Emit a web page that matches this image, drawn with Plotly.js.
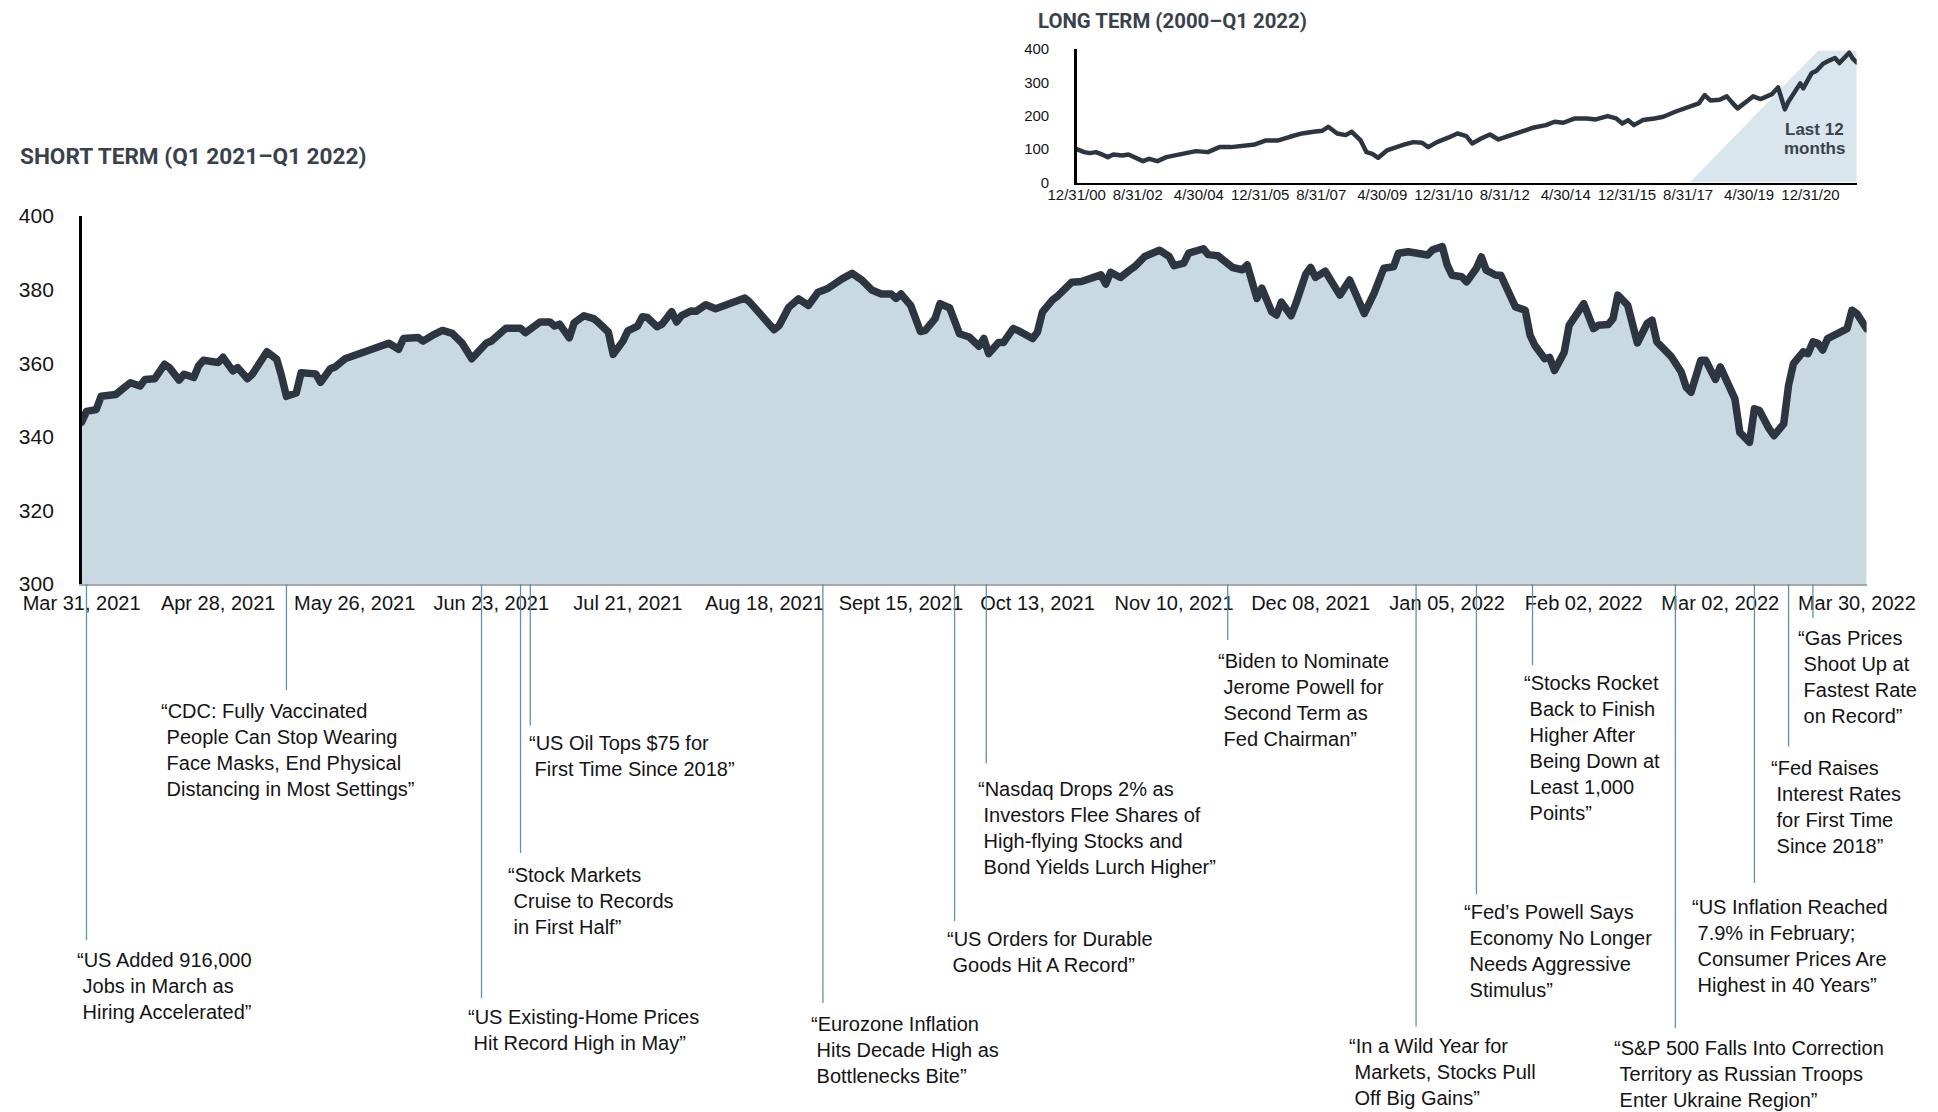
<!DOCTYPE html>
<html>
<head>
<meta charset="utf-8">
<script src="https://cdn.plot.ly/plotly-3.0.1.min.js"></script>
<style>
  html, body { margin: 0; padding: 0; background: #ffffff; }
  #chart { width: 1938px; height: 1112px; }
  .scatterlayer .js-line { stroke-linejoin: round; stroke-linecap: round; }
</style>
</head>
<body>
<div id="chart"></div>
<script>
// ---------------- DATA ----------------
const shortTermDates = [
'2021-03-31','2021-04-01','2021-04-03','2021-04-04','2021-04-07','2021-04-10','2021-04-12','2021-04-13','2021-04-15','2021-04-17',
'2021-04-18','2021-04-20','2021-04-21','2021-04-23','2021-04-24','2021-04-25','2021-04-28','2021-04-29','2021-05-01','2021-05-02',
'2021-05-04','2021-05-05','2021-05-08','2021-05-10','2021-05-11','2021-05-12','2021-05-14','2021-05-15','2021-05-18','2021-05-19',
'2021-05-21','2021-05-22','2021-05-24','2021-05-26','2021-05-28','2021-05-30','2021-05-31','2021-06-02','2021-06-04','2021-06-05',
'2021-06-08','2021-06-09','2021-06-11','2021-06-13','2021-06-15','2021-06-17','2021-06-19','2021-06-21','2021-06-22','2021-06-23',
'2021-06-26','2021-06-29','2021-06-30','2021-07-03','2021-07-05','2021-07-06','2021-07-07','2021-07-09','2021-07-10','2021-07-12',
'2021-07-14','2021-07-15','2021-07-17','2021-07-18','2021-07-20','2021-07-21','2021-07-23','2021-07-24','2021-07-25','2021-07-27',
'2021-07-28','2021-07-30','2021-07-31','2021-08-01','2021-08-03','2021-08-04','2021-08-06','2021-08-08','2021-08-11','2021-08-14',
'2021-08-15','2021-08-17','2021-08-20','2021-08-21','2021-08-23','2021-08-25','2021-08-27','2021-08-29','2021-08-31','2021-09-03',
'2021-09-05','2021-09-07','2021-09-09','2021-09-11','2021-09-13','2021-09-14','2021-09-15','2021-09-17','2021-09-19','2021-09-20',
'2021-09-22','2021-09-23','2021-09-25','2021-09-27','2021-09-29','2021-10-01','2021-10-02','2021-10-03','2021-10-05','2021-10-06',
'2021-10-08','2021-10-09','2021-10-12','2021-10-13','2021-10-14','2021-10-16','2021-10-17','2021-10-20','2021-10-22','2021-10-26',
'2021-10-27','2021-10-28','2021-10-30','2021-11-01','2021-11-02','2021-11-04','2021-11-07','2021-11-09','2021-11-10','2021-11-12',
'2021-11-13','2021-11-16','2021-11-17','2021-11-19','2021-11-20','2021-11-22','2021-11-24','2021-11-25','2021-11-27','2021-11-28',
'2021-11-30','2021-12-01','2021-12-02','2021-12-04','2021-12-05','2021-12-07','2021-12-08','2021-12-09','2021-12-11','2021-12-14',
'2021-12-16','2021-12-17','2021-12-19','2021-12-21','2021-12-23','2021-12-25','2021-12-26','2021-12-28','2021-12-30','2022-01-01',
'2022-01-02','2022-01-04','2022-01-05','2022-01-06','2022-01-08','2022-01-09','2022-01-11','2022-01-12','2022-01-13','2022-01-15',
'2022-01-16','2022-01-18','2022-01-19','2022-01-21','2022-01-22','2022-01-23','2022-01-25','2022-01-26','2022-01-27','2022-01-29',
'2022-01-30','2022-02-02','2022-02-04','2022-02-05','2022-02-07','2022-02-08','2022-02-09','2022-02-11','2022-02-12','2022-02-13',
'2022-02-15','2022-02-16','2022-02-17','2022-02-19','2022-02-20','2022-02-22','2022-02-23','2022-02-24','2022-02-26','2022-02-27',
'2022-03-01','2022-03-02','2022-03-03','2022-03-05','2022-03-06','2022-03-08','2022-03-09','2022-03-10','2022-03-12','2022-03-13',
'2022-03-15','2022-03-16','2022-03-17','2022-03-19','2022-03-20','2022-03-21','2022-03-22','2022-03-23','2022-03-24','2022-03-26',
'2022-03-28','2022-03-29','2022-03-30','2022-04-01'
];
const shortTermValues = [
344.0,346.9,347.4,351.0,351.5,354.7,353.8,355.6,355.8,359.7,
358.8,355.4,357.0,356.1,359.3,360.8,360.2,361.6,357.9,358.8,
355.8,357.0,363.1,361.1,356.5,351.0,351.9,357.4,357.1,354.8,
358.5,359.0,361.2,362.1,362.9,363.8,364.2,365.4,363.8,366.7,
367.0,366.0,367.6,368.9,368.1,365.5,361.2,363.8,365.5,366.0,
369.5,369.5,368.3,371.2,371.2,370.1,370.6,366.9,371.0,372.9,
372.1,371.0,368.5,362.4,366.0,368.8,370.1,372.6,372.4,369.9,
370.6,374.0,371.2,372.9,374.2,374.1,375.9,374.8,376.2,377.7,
376.6,373.4,369.1,370.2,375.2,377.5,375.7,379.3,380.3,383.0,
384.4,382.6,379.9,378.8,378.8,377.6,378.8,375.7,368.6,368.9,
372.1,376.2,375.0,368.0,367.1,364.6,366.7,362.6,365.6,365.6,
369.4,368.9,366.7,368.5,373.9,377.1,378.1,382.0,382.2,384.0,
381.5,384.7,383.3,385.4,386.3,389.0,390.7,389.0,386.5,387.2,
389.9,391.1,389.5,389.2,388.3,386.0,385.4,386.7,377.6,380.4,
374.0,373.1,376.6,372.9,376.3,384.2,386.0,383.3,385.0,378.5,
382.6,379.8,373.5,379.0,385.8,386.2,389.9,390.3,389.9,389.4,
390.8,391.7,386.7,383.9,383.5,382.1,385.8,388.9,385.3,383.9,
383.9,377.6,375.3,374.4,367.6,364.8,361.2,361.6,358.0,363.0,
370.3,376.2,369.4,370.3,370.5,372.1,378.5,375.8,370.3,365.5,
370.8,371.7,365.8,363.1,361.7,357.6,353.5,352.1,360.8,360.8,
355.6,359.0,356.3,350.3,341.2,338.5,347.6,347.2,342.2,340.3,
343.5,354.0,359.9,363.1,362.6,365.8,365.4,363.6,366.7,367.9,
369.4,374.4,373.5,369.4
];

const shortTickDates = ['2021-03-31','2021-04-28','2021-05-26','2021-06-23','2021-07-21','2021-08-18','2021-09-15',
  '2021-10-13','2021-11-10','2021-12-08','2022-01-05','2022-02-02','2022-03-02','2022-03-30'];
const shortTickLabels = ['Mar 31, 2021','Apr 28, 2021','May 26, 2021','Jun 23, 2021','Jul 21, 2021','Aug 18, 2021',
  'Sept 15, 2021','Oct 13, 2021','Nov 10, 2021','Dec 08, 2021','Jan 05, 2022','Feb 02, 2022','Mar 02, 2022','Mar 30, 2022'];
const shortYTicks = [300, 320, 340, 360, 380, 400];

const longTermDates = [
'2000-12-31','2001-03-15','2001-05-12','2001-07-09','2001-09-09','2001-11-06','2001-12-31','2002-03-31','2002-05-31','2002-07-24',
'2002-10-21','2002-12-21','2003-03-15','2003-06-12','2003-09-09','2004-01-06','2004-03-31','2004-07-28','2004-11-21','2005-03-18',
'2005-07-12','2005-11-09','2006-02-28','2006-06-30','2006-10-24','2007-02-21','2007-06-15','2007-09-12','2007-11-09','2008-02-06',
'2008-04-30','2008-06-30','2008-09-27','2008-11-24','2009-01-21','2009-03-21','2009-06-15','2009-09-12','2009-12-09','2010-03-06',
'2010-05-31','2010-07-31','2010-10-27','2011-02-21','2011-05-18','2011-08-15','2011-10-12','2012-01-09','2012-04-06','2012-06-30',
'2012-10-27','2013-02-24','2013-06-18','2013-10-15','2014-01-09','2014-04-06','2014-07-31','2014-11-27','2015-02-24','2015-06-21',
'2015-09-15','2015-11-15','2016-01-12','2016-03-09','2016-06-06','2016-09-30','2016-12-27','2017-04-24','2017-08-18','2017-12-15',
'2018-02-12','2018-04-09','2018-07-10','2018-09-20','2018-11-10','2019-01-05','2019-04-24','2019-06-10','2019-08-21','2019-12-15',
'2020-02-12','2020-04-20','2020-05-25','2020-07-25','2020-09-20','2020-10-20','2021-01-10','2021-03-01','2021-05-05','2021-07-10',
'2021-09-01','2021-10-15','2021-12-10','2022-01-20','2022-02-25','2022-04-05'
];
const longTermValues = [
100,91,88,91,84,76,84,81,84,76,
64,71,64,76,81,91,94,91,106,106,
111,114,126,126,137,147,152,155,167,147,
142,152,126,91,86,74,96,106,114,121,
119,106,121,135,147,139,117,132,144,129,
142,152,165,172,182,179,192,192,189,199,
192,177,187,172,187,192,197,212,225,237,
262,246,248,258,240,222,247,258,250,265,
285,219,242,272,297,282,327,335,356,366,
373,358,376,389,371,360
];
const longTickDates = ['2000-12-31','2002-08-31','2004-04-30','2005-12-31','2007-08-31','2009-04-30','2010-12-31',
  '2012-08-31','2014-04-30','2015-12-31','2017-08-31','2019-04-30','2020-12-31'];
const longTickLabels = ['12/31/00','8/31/02','4/30/04','12/31/05','8/31/07','4/30/09','12/31/10',
  '8/31/12','4/30/14','12/31/15','8/31/17','4/30/19','12/31/20'];
const longYTicks = [0, 100, 200, 300, 400];

const eventDates = ['2021-04-01','2021-05-12','2021-07-01','2021-06-29','2021-06-21','2021-08-30','2021-09-26',
  '2021-10-02 12:00','2021-11-21','2021-12-29 15:00','2022-01-11','2022-01-22 12:00','2022-02-20 19:00',
  '2022-03-09','2022-03-16','2022-03-21'];
const eventHeadlines = [
  ['“US Added 916,000','Jobs in March as','Hiring Accelerated”'],
  ['“CDC: Fully Vaccinated','People Can Stop Wearing','Face Masks, End Physical','Distancing in Most Settings”'],
  ['“US Oil Tops $75 for','First Time Since 2018”'],
  ['“Stock Markets','Cruise to Records','in First Half”'],
  ['“US Existing-Home Prices','Hit Record High in May”'],
  ['“Eurozone Inflation','Hits Decade High as','Bottlenecks Bite”'],
  ['“US Orders for Durable','Goods Hit A Record”'],
  ['“Nasdaq Drops 2% as','Investors Flee Shares of','High-flying Stocks and','Bond Yields Lurch Higher”'],
  ['“Biden to Nominate','Jerome Powell for','Second Term as','Fed Chairman”'],
  ['“In a Wild Year for','Markets, Stocks Pull','Off Big Gains”'],
  ['“Fed’s Powell Says','Economy No Longer','Needs Aggressive','Stimulus”'],
  ['“Stocks Rocket','Back to Finish','Higher After','Being Down at','Least 1,000','Points”'],
  ['“S&P 500 Falls Into Correction','Territory as Russian Troops','Enter Ukraine Region”'],
  ['“US Inflation Reached','7.9% in February;','Consumer Prices Are','Highest in 40 Years”'],
  ['“Fed Raises','Interest Rates','for First Time','Since 2018”'],
  ['“Gas Prices','Shoot Up at','Fastest Rate','on Record”']
];

// ---------------- LAYOUT HELPERS ----------------
const W = 1938, H = 1112;
const px = v => v / W;
const py = v => 1 - v / H;

// [text left px, first-line centre px, connector bottom px]
const eventPlacement = [
  [75, 959.6, 940], [159, 710.7, 690], [527, 743, 725.5], [506, 875, 853],
  [465.6, 1017, 998], [809, 1024, 1003], [945, 938.5, 921], [975.6, 789, 763.5],
  [1215.8, 661.4, 640], [1346.8, 1046, 1026.5], [1462, 912, 894.5], [1521.5, 683, 665],
  [1612, 1047.7, 1028], [1690, 906.8, 883], [1769, 767.7, 746.6], [1796, 638, 618]
];

const REG = 'Liberation Sans, Arial, Helvetica, sans-serif';
const COND = 'Roboto, Liberation Sans, Arial, sans-serif';
const TITLE_COLOR = '#39424b';
const LINE_COLOR = '#2d3640';

const mainLeft = 81.6, mainRight = 1866.6, mainTop = 216, mainBottom = 584;
const insetLeft = 1076.7, insetRight = 1856.7, insetTop = 49, insetBottom = 182.5;

const shadeX = ['2017-09-15', '2021-03-15', '2022-04-05', '2022-04-05'];
const shadeY = [0, 395, 395, 0];

const traces = [
  {
    x: shortTermDates, y: shortTermValues, type: 'scatter', mode: 'lines',
    fill: 'tozeroy', fillcolor: '#c9d9e2',
    line: { color: LINE_COLOR, width: 7.5 },
    xaxis: 'x', yaxis: 'y', hoverinfo: 'skip'
  },
  {
    x: shadeX, y: shadeY, type: 'scatter', mode: 'none', fill: 'toself',
    fillcolor: '#d9e6ed', xaxis: 'x2', yaxis: 'y2', hoverinfo: 'skip'
  },
  {
    x: longTermDates, y: longTermValues, type: 'scatter', mode: 'lines',
    line: { color: LINE_COLOR, width: 4.5 },
    xaxis: 'x2', yaxis: 'y2', hoverinfo: 'skip'
  }
];

const shapes = eventDates.map((d, i) => ({
  type: 'line', xref: 'x', yref: 'paper',
  x0: d, x1: d, y0: py(mainBottom), y1: py(eventPlacement[i][2]),
  line: { color: '#5f93ad', width: 1.3 }, layer: 'above'
}));

const annotations = eventHeadlines.map((lines, i) => ({
  xref: 'paper', yref: 'paper',
  x: px(eventPlacement[i][0]), y: py(eventPlacement[i][1] - 13),
  xanchor: 'left', yanchor: 'top', align: 'left', showarrow: false,
  text: lines.map((l, j) => (j === 0 ? l : '\u00A0' + l)).join('<br>'),
  font: { family: REG, size: 20, color: '#141414' }
}));

annotations.push(
  { xref: 'paper', yref: 'paper', x: px(18), y: py(156), xanchor: 'left', yanchor: 'middle', showarrow: false,
    text: 'SHORT TERM (Q1 2021–Q1 2022)', font: { family: COND, size: 22.6, color: TITLE_COLOR, weight: 'bold' } },
  { xref: 'paper', yref: 'paper', x: px(1036), y: py(20.7), xanchor: 'left', yanchor: 'middle', showarrow: false,
    text: 'LONG TERM (2000–Q1 2022)', font: { family: COND, size: 20.4, color: TITLE_COLOR, weight: 'bold' } },
  { xref: 'paper', yref: 'paper', x: px(1814), y: py(130), xanchor: 'center', yanchor: 'middle', showarrow: false,
    text: 'Last 12', font: { family: REG, size: 17, color: '#3a434c', weight: 'bold' } },
  { xref: 'paper', yref: 'paper', x: px(1814), y: py(148.5), xanchor: 'center', yanchor: 'middle', showarrow: false,
    text: 'months', font: { family: REG, size: 17, color: '#3a434c', weight: 'bold' } }
);

const layout = {
  width: W, height: H,
  margin: { l: 0, r: 0, t: 0, b: 0, pad: 0 },
  paper_bgcolor: '#ffffff', plot_bgcolor: 'rgba(0,0,0,0)',
  showlegend: false,
  font: { family: REG, color: '#141414' },
  xaxis: {
    type: 'date', domain: [px(mainLeft), px(mainRight)], anchor: 'y',
    range: ['2021-03-31', '2022-04-01'],
    tickmode: 'array', tickvals: shortTickDates, ticktext: shortTickLabels,
    ticks: '', ticklabelstandoff: 0, tickfont: { family: REG, size: 20, color: '#141414' },
    showgrid: false, zeroline: false, showline: true, linecolor: '#a2aab0', linewidth: 1.5,
    fixedrange: true
  },
  yaxis: {
    domain: [py(mainBottom), py(mainTop)], anchor: 'x',
    range: [300, 400], tickmode: 'array', tickvals: shortYTicks,
    ticks: '', ticklabelstandoff: 21, tickfont: { family: REG, size: 21, color: '#141414' },
    showgrid: false, zeroline: false, showline: true, linecolor: '#000000', linewidth: 2.5,
    fixedrange: true
  },
  xaxis2: {
    type: 'date', domain: [px(insetLeft), px(insetRight)], anchor: 'y2',
    range: ['2000-12-31', '2022-04-05'],
    tickmode: 'array', tickvals: longTickDates, ticktext: longTickLabels,
    ticks: '', ticklabelstandoff: -3, tickfont: { family: REG, size: 15, color: '#141414' },
    showgrid: false, zeroline: false, showline: true, linecolor: '#000000', linewidth: 2.5,
    fixedrange: true
  },
  yaxis2: {
    domain: [py(insetBottom), py(insetTop)], anchor: 'x2',
    range: [0, 400], tickmode: 'array', tickvals: longYTicks,
    ticks: '', ticklabelstandoff: 22, tickfont: { family: REG, size: 15, color: '#141414' },
    showgrid: false, zeroline: false, showline: true, linecolor: '#000000', linewidth: 2.5,
    fixedrange: true
  },
  shapes: shapes,
  annotations: annotations
};

Plotly.newPlot('chart', traces, layout, { displayModeBar: false, staticPlot: true });
</script>
</body>
</html>
